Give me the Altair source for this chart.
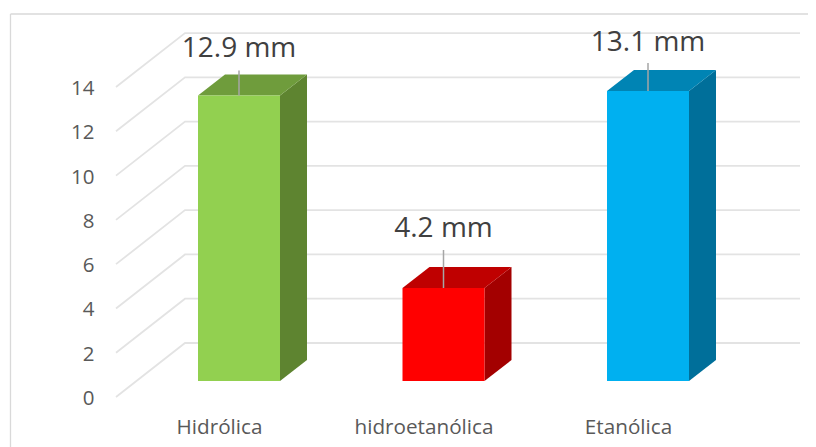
import altair as alt
import pandas as pd

categories = ["Hidrólica", "hidroetanólica", "Etanólica"]
values = [12.9, 4.2, 13.1]
unit = " mm"
front_colors = ["#92d050", "#ff0000", "#00b0f0"]
top_colors = ["#6f9c3c", "#bf0000", "#0084b4"]
side_colors = ["#5e8430", "#a30000", "#006f9a"]
y_ticks = [0, 2, 4, 6, 8, 10, 12, 14]

# scale helpers: one y unit = 22.14 px, one category step = 204.5 px
PXY, PXX = 22.14, 204.5
W, H = 800, 439
X0 = 239 - 8            # x of the first category inside the plot
Y0 = 397 - 8            # y of value 0 on the front plane
x_dom = [-X0 / PXX, (W - X0) / PXX]
y_dom = [(Y0 - H) / PXY, Y0 / PXY]
x_s = alt.Scale(domain=x_dom, range=[0, W], nice=False, zero=False)
y_s = alt.Scale(domain=y_dom, range=[H, 0], nice=False, zero=False)

half = 41 / PXX
bar_dx, bar_dy = 27 / PXX, 21 / PXY
base = 16 / PXY
grid_back_x, grid_back_y = -54 / PXX, 54 / PXY
grid_front_x = -123 / PXX
grid_end_x = 561 / PXX
leader = [25 / PXY, 38 / PXY, 28 / PXY]
text_lift = [46.5 / PXY, 59 / PXY, 48 / PXY]

x_axis = alt.Axis(
    values=[0, 1, 2], title=None, domain=False, ticks=False, grid=False,
    labelExpr="['" + "','".join(categories) + "'][datum.value]",
    labelFont="Open Sans", labelFontSize=20.7, labelColor="#595959",
    labelOffset=-20, labelPadding=0, offset=-30, labelFlush=False, labelOverlap=False,
)
y_axis = alt.Axis(
    values=y_ticks, title=None, domain=False, ticks=False, grid=False,
    labelFont="Open Sans", labelFontSize=20.5, labelColor="#595959",
    labelPadding=0, offset=-86, labelOffset=1.5,
)
X = alt.X("x:Q", scale=x_s, axis=x_axis)
Y = alt.Y("y:Q", scale=y_s, axis=y_axis)

grid_rows = []
for t in y_ticks:
    grid_rows += [
        {"t": t, "o": 0, "x": grid_front_x, "y": t},
        {"t": t, "o": 1, "x": -54 / PXX, "y": t + grid_back_y},
        {"t": t, "o": 2, "x": grid_end_x, "y": t + grid_back_y},
    ]
grid = alt.Chart(pd.DataFrame(grid_rows)).mark_line(
    color="#e3e3e3", strokeWidth=1.8
).encode(X, Y, detail="t:N", order="o:Q")

side_rows, top_rows, front_rows, leader_rows, text_rows = [], [], [], [], []
for i, (c, v) in enumerate(zip(categories, values)):
    top = v + base
    side_rows += [
        {"c": c, "x": i + half, "y": top, "y2": base},
        {"c": c, "x": i + half + bar_dx, "y": top + bar_dy, "y2": base + bar_dy},
    ]
    top_rows += [
        {"c": c, "y": top, "x": i - half, "x2": i + half},
        {"c": c, "y": top + bar_dy, "x": i - half + bar_dx, "x2": i + half + bar_dx},
    ]
    front_rows.append({"c": c, "x": i - half, "x2": i + half, "y": top, "y2": base})
    leader_rows.append({"x": i, "y": top, "y2": top + leader[i]})
    text_rows.append({"x": i, "y": top + text_lift[i], "t": f"{v}{unit}"})

layers = [grid]
for i, c in enumerate(categories):
    layers.append(alt.Chart(pd.DataFrame(side_rows)).transform_filter(alt.datum.c == c)
                  .mark_area(orient="vertical", color=side_colors[i]).encode(X, Y, y2="y2:Q"))
    layers.append(alt.Chart(pd.DataFrame(top_rows)).transform_filter(alt.datum.c == c)
                  .mark_area(orient="horizontal", color=top_colors[i]).encode(X, Y, x2="x2:Q"))
    layers.append(alt.Chart(pd.DataFrame(front_rows)).transform_filter(alt.datum.c == c)
                  .mark_rect(color=front_colors[i]).encode(X, x2="x2:Q", y=Y, y2="y2:Q"))
leaders = alt.Chart(pd.DataFrame(leader_rows)).mark_rule(color="#a6a6a6", strokeWidth=1.5).encode(
    X, Y, y2="y2:Q")
labels = alt.Chart(pd.DataFrame(text_rows)).mark_text(
    font="Open Sans", fontSize=28, color="#404040", baseline="middle", align="center"
).encode(X, Y, text="t:N")

frame_top = alt.Chart(pd.DataFrame({"a": [0]})).mark_rule(color="#d9d9d9", strokeWidth=1.3).encode(
    x=alt.value(2.5), x2=alt.value(W), y=alt.value(6))
frame_left = alt.Chart(pd.DataFrame({"a": [0]})).mark_rule(color="#d9d9d9", strokeWidth=1.3).encode(
    x=alt.value(2.5), y=alt.value(6), y2=alt.value(H))

chart = alt.layer(
    frame_top, frame_left, *layers, leaders, labels
).properties(width=W, height=H, padding=0, background="white",
             autosize=alt.AutoSizeParams(type="none")
).configure_view(stroke=None)

chart.save("out.html", embed_options={"renderer": "svg", "actions": False})
